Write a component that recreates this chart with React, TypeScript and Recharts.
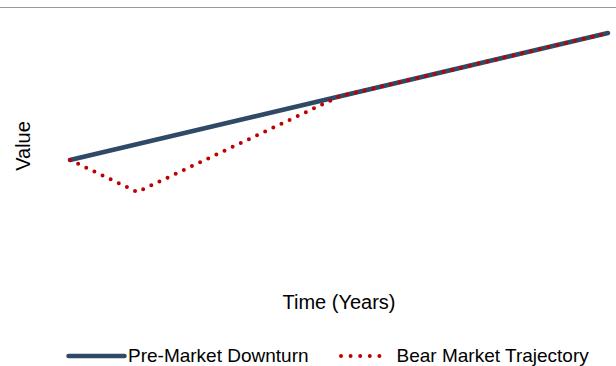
import { LineChart, Line, XAxis, YAxis } from 'recharts'

// Pre-downturn path vs. bear market path
const blueYears = [0, 8]
const blueValues = [110, 237]
const redYears = [0, 1, 4, 8]
const redValues = [110, 78, 173.5, 237]

const BLUE = '#2e4a67'
const RED = '#c00000'
const FONT = '"Liberation Sans", Arial, sans-serif'

const blueData = blueYears.map((year, i) => ({ year, value: blueValues[i] }))
const redData = redYears.map((year, i) => ({ year, value: redValues[i] }))

function YLabel(props: any) {
  const vb = props.viewBox
  if (!vb) return null
  const x = vb.x + 23
  const y = vb.y + vb.height / 2 - 4
  return (
    <text
      x={x}
      y={y}
      transform={`rotate(-90 ${x} ${y})`}
      textAnchor="middle"
      dominantBaseline="central"
      fontSize={20}
      fill="#000"
      fontFamily={FONT}
    >
      Value
    </text>
  )
}

export default function App() {
  return (
    <div
      style={{
        position: 'absolute',
        left: 0,
        top: 0,
        width: 616,
        height: 366,
        background: '#fff',
        fontFamily: FONT,
      }}
    >
      <div style={{ position: 'absolute', left: 0, top: 7, width: 616, height: 1, background: '#999' }} />
      <div style={{ position: 'absolute', left: 0, top: 0 }}>
        <LineChart width={616} height={320} margin={{ top: 30, right: 8, bottom: 0, left: 0 }}>
          <XAxis
            type="number"
            dataKey="year"
            domain={[0, 8]}
            axisLine={false}
            tickLine={false}
            tick={false}
            height={50}
            label={{ value: 'Time (Years)', position: 'insideTop', offset: 25, fontSize: 20, fill: '#000', fontFamily: FONT }}
          />
          <YAxis
            type="number"
            domain={[0, 240]}
            width={70}
            axisLine={false}
            tickLine={false}
            tick={false}
            label={<YLabel />}
          />
          <Line
            data={blueData}
            dataKey="value"
            name="Pre-Market Downturn"
            stroke={BLUE}
            strokeWidth={4.5}
            strokeLinecap="round"
            dot={false}
            isAnimationActive={false}
          />
          <Line
            data={redData}
            dataKey="value"
            name="Bear Market Trajectory"
            stroke={RED}
            strokeWidth={4}
            strokeLinecap="round"
            strokeDasharray="0 9"
            dot={false}
            isAnimationActive={false}
          />
        </LineChart>
      </div>
      <div
        style={{
          position: 'absolute',
          top: 344,
          left: 66,
          height: 24,
          display: 'flex',
          alignItems: 'center',
          fontSize: 19,
          color: '#000',
          whiteSpace: 'nowrap',
        }}
      >
        <svg width={61} height={10} style={{ display: 'block' }}>
          <line x1={2.5} y1={5} x2={58.5} y2={5} stroke={BLUE} strokeWidth={4.5} strokeLinecap="round" />
        </svg>
        <span style={{ marginLeft: 1 }}>Pre-Market Downturn</span>
        <svg width={54} height={10} style={{ display: 'block', marginLeft: 30 }}>
          <line x1={2} y1={5} x2={50} y2={5} stroke={RED} strokeWidth={4} strokeLinecap="round" strokeDasharray="0 9.6" />
        </svg>
        <span style={{ marginLeft: 4 }}>Bear Market Trajectory</span>
      </div>
    </div>
  )
}
